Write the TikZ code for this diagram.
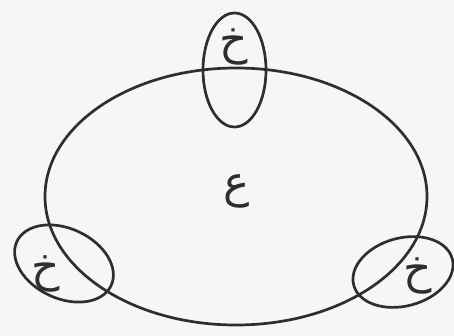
\documentclass[tikz,border=0pt]{standalone}
\usepackage{fontspec}
\newfontfamily\arabicfont[Script=Arabic]{DejaVu Sans}
\TeXXeTstate=1
\definecolor{paper}{HTML}{F6F6F4}
\definecolor{ink}{HTML}{2E2E2E}
\begin{document}
\begin{tikzpicture}[x=1pt,y=-1pt,
  ring/.style={draw=ink,line width=2.7pt},
  letter/.style={text=ink,font=\arabicfont\fontsize{44}{50}\selectfont,inner sep=0pt}]
\fill[paper] (0,0) rectangle (454,336);
\useasboundingbox (0,0) rectangle (454,336);
\draw[ring] (236,196.5) ellipse [x radius=191, y radius=128.5];
\draw[ring] (234.5,70) ellipse [x radius=31.5, y radius=57];
\draw[ring] (64,263.5) ellipse [x radius=52, y radius=35, rotate=-25];
\draw[ring] (403,272) ellipse [x radius=51, y radius=34, rotate=15];
\node[letter] (top) at (234,47) {\beginR خ\endR};
\node[letter] (mid) at (237,191) {\beginR ع\endR};
\node[letter] (left) at (46,274) {\beginR خ\endR};
\node[letter] (right) at (418,276) {\beginR خ\endR};
\end{tikzpicture}
\end{document}
